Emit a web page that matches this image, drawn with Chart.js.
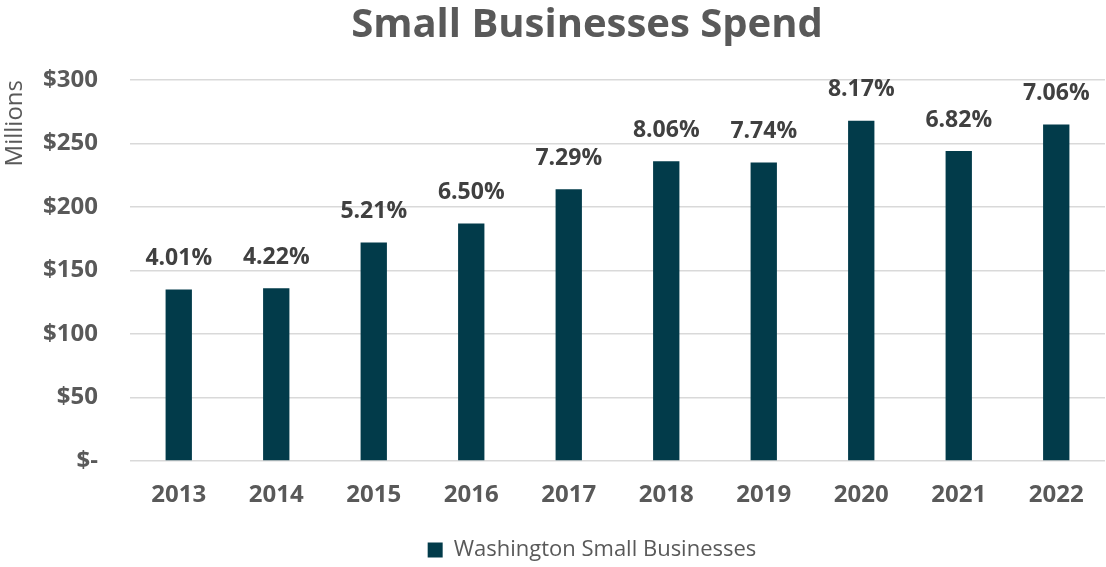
<!DOCTYPE html>
<html>
<head>
<meta charset="utf-8">
<script src="https://cdn.jsdelivr.net/npm/chart.js@4.4.0/dist/chart.umd.min.js"></script>
<style>
  html, body { margin: 0; padding: 0; background: #fff; }
  #wrap { width: 1106px; height: 567px; }
</style>
</head>
<body>
<div id="wrap"><canvas id="myChart" width="1106" height="567"></canvas></div>
<script>
'use strict';

const years = ['2013', '2014', '2015', '2016', '2017', '2018', '2019', '2020', '2021', '2022'];
const spendMillions = [135, 136, 172, 187, 214, 236, 235, 268, 244, 265];
const shareLabels = ['4.01%', '4.22%', '5.21%', '6.50%', '7.29%', '8.06%', '7.74%', '8.17%', '6.82%', '7.06%'];
const yTicks = [0, 50, 100, 150, 200, 250, 300];
const chartTitle = 'Small Businesses Spend';

const barColor = '#023b4a';
const textGrey = '#595959';

// title sits a bit right of the canvas centre, like the original
const titlePlugin = {
  id: 'offsetTitle',
  afterDraw(chart) {
    let ctx = chart.ctx;
    ctx.save();
    ctx.font = 'bold 40px "Open Sans"';
    ctx.fillStyle = textGrey;
    ctx.textAlign = 'center';
    ctx.textBaseline = 'alphabetic';
    ctx.fillText(chartTitle, 587, 37);
    ctx.restore();
  }
};

// nudge the legend right/down so it lines up under the plot like the original
const legendShiftPlugin = {
  id: 'legendShift',
  afterLayout(chart) {
    chart.legend.left += 39;
    chart.legend.right += 39;
    chart.legend.top += 4;
    chart.legend.bottom += 4;
  }
};

// percent labels over each bar
const shareLabelPlugin = {
  id: 'shareLabels',
  afterDatasetsDraw(chart) {
    let ctx = chart.ctx;
    let meta = chart.getDatasetMeta(0);
    ctx.save();
    ctx.font = 'bold 23px "Open Sans"';
    ctx.fillStyle = '#404040';
    ctx.textAlign = 'center';
    ctx.textBaseline = 'middle';
    meta.data.forEach(function (bar, i) {
      ctx.fillText(shareLabels[i], bar.x, bar.y - 31);
    });
    ctx.restore();
  }
};

let ctx = document.getElementById('myChart').getContext('2d');
new Chart(ctx, {
  type: 'bar',
  data: {
    labels: years,
    datasets: [
      {
        label: 'Washington Small Businesses',
        data: spendMillions,
        backgroundColor: barColor,
        borderWidth: 0,
        barPercentage: 0.27,
        categoryPercentage: 1,
      },
    ],
  },
  options: {
    responsive: false,
    animation: false,
    devicePixelRatio: 1,
    layout: { padding: { left: 1, right: 1, top: 80, bottom: 0 } },
    plugins: {
      title: { display: false },
      legend: {
        position: 'bottom',
        labels: {
          color: textGrey,
          font: { family: 'Open Sans', size: 22 },
          boxWidth: 15,
          boxHeight: 15,
          padding: 3,
        },
      },
      tooltip: { enabled: false },
    },
    scales: {
      x: {
        grid: { display: false, drawTicks: false },
        border: { display: false },
        afterFit(scale) {
          scale.height = 71;
        },
        ticks: {
          color: textGrey,
          font: { family: 'Open Sans', size: 24, weight: 'bold' },
          padding: 20,
        },
      },
      y: {
        min: 0,
        max: 300,
        afterBuildTicks(scale) {
          scale.ticks = yTicks.map(function (v) { return { value: v }; });
        },
        afterFit(scale) {
          scale.width = 129;
        },
        grid: { color: '#d9d9d9', lineWidth: 1.5, drawTicks: false },
        border: { display: false },
        title: {
          display: true,
          text: 'Millions',
          align: 'end',
          color: textGrey,
          font: { family: 'Open Sans', size: 24 },
          padding: 0,
        },
        ticks: {
          color: textGrey,
          font: { family: 'Open Sans', size: 24, weight: 'bold' },
          padding: 32,
          callback: function (v) { return v === 0 ? '$-' : '$' + v; },
        },
      },
    },
  },
  plugins: [shareLabelPlugin, titlePlugin, legendShiftPlugin],
});
</script>
</body>
</html>
